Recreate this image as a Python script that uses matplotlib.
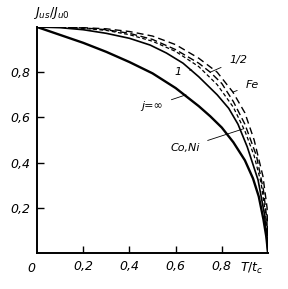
import matplotlib
matplotlib.use("Agg")
import matplotlib.pyplot as plt

# reduced temperature T/tc and reduced magnetisation
t_inf = [0, 0.1, 0.2, 0.3, 0.4, 0.5, 0.6, 0.7, 0.75, 0.8, 0.85, 0.9, 0.935, 0.96, 0.98, 0.993, 1.0]
m_inf = [1, 0.965, 0.93, 0.89, 0.845, 0.795, 0.73, 0.65, 0.605, 0.555, 0.49, 0.41, 0.33, 0.25, 0.15, 0.07, 0]

t_one = [0, 0.1, 0.2, 0.3, 0.4, 0.49, 0.56, 0.632, 0.7, 0.78, 0.83, 0.87, 0.91, 0.957, 0.985, 1.0]
m_one = [1, 0.997, 0.988, 0.972, 0.95, 0.92, 0.885, 0.84, 0.78, 0.70, 0.64, 0.57, 0.47, 0.323, 0.17, 0]

t_half = [0, 0.1, 0.2, 0.3, 0.4, 0.5, 0.6, 0.7, 0.75, 0.8, 0.85, 0.9, 0.95, 0.98, 0.995, 1.0]
m_half = [1, 0.999, 0.996, 0.988, 0.972, 0.945, 0.9, 0.84, 0.8, 0.75, 0.67, 0.57, 0.43, 0.28, 0.15, 0]

t_coni = [0, 0.1, 0.2, 0.3, 0.4, 0.5, 0.6, 0.7, 0.78, 0.85, 0.9, 0.94, 0.97, 0.99, 1.0]
m_coni = [1, 0.999, 0.994, 0.985, 0.966, 0.937, 0.892, 0.825, 0.745, 0.645, 0.54, 0.43, 0.31, 0.17, 0]

t_fe = [0, 0.1, 0.2, 0.3, 0.4, 0.5, 0.6, 0.7, 0.78, 0.848, 0.9, 0.94, 0.978, 0.996, 1.0]
m_fe = [1, 0.999, 0.997, 0.992, 0.98, 0.96, 0.922, 0.862, 0.8, 0.712, 0.62, 0.5, 0.34, 0.2, 0]

ticks = [0.2, 0.4, 0.6, 0.8]
tick_labels = ["0,2", "0,4", "0,6", "0,8"]

plt.rcParams["font.family"] = ["DejaVu Sans"]
plt.rcParams["mathtext.fontset"] = "dejavusans"
FS = 9

fig = plt.figure(figsize=(2.88, 2.89), dpi=100)
ax = fig.add_axes([37 / 288, 36 / 289, 231 / 288, 226 / 289])

ax.plot(t_inf, m_inf, color="black", lw=1.7)
ax.plot(t_one, m_one, color="black", lw=1.2)
ax.plot(t_half, m_half, color="black", lw=1.0, dashes=(5, 2.5))
ax.plot(t_coni, m_coni, color="black", lw=0.9, dashes=(3, 2))
ax.plot(t_fe, m_fe, color="black", lw=1.0, dashes=(5, 3))

ax.set_xlim(0, 1)
ax.set_ylim(0, 1)
for s in ["top", "right"]:
    ax.spines[s].set_visible(False)
for s in ["left", "bottom"]:
    ax.spines[s].set_linewidth(1.4)

ax.set_xticks(ticks)
ax.set_xticklabels(tick_labels, style="italic", fontsize=FS)
ax.set_yticks(ticks)
ax.set_yticklabels(tick_labels, style="italic", fontsize=FS)
ax.tick_params(direction="in", length=5, width=1, pad=5)

ax.text(-0.025, -0.07, "0", style="italic", fontsize=FS, ha="center", va="center")
ax.text(0.93, -0.07, r"$T/t_c$", fontsize=FS, ha="center", va="center")
ax.text(0.06, 1.06, r"$J_{us}/J_{u0}$", fontsize=FS, ha="center", va="center",
        transform=ax.transAxes)

# curve labels with leader lines
def label(text, xy, xytext):
    ax.annotate(text, xy=xy, xytext=xytext, fontsize=FS - 1, style="italic",
                ha="center", va="center",
                arrowprops=dict(arrowstyle="-", lw=0.6, color="black",
                                shrinkA=4, shrinkB=0))

label("1/2", (0.75, 0.8), (0.87, 0.854))
label("Fe", (0.848, 0.712), (0.93, 0.743))
label("1", (0.67, 0.81), (0.61, 0.80))
label("j=∞", (0.645, 0.70), (0.5, 0.65))
label("Co,Ni", (0.895, 0.55), (0.64, 0.465))

fig.savefig("out.png", dpi=100)
